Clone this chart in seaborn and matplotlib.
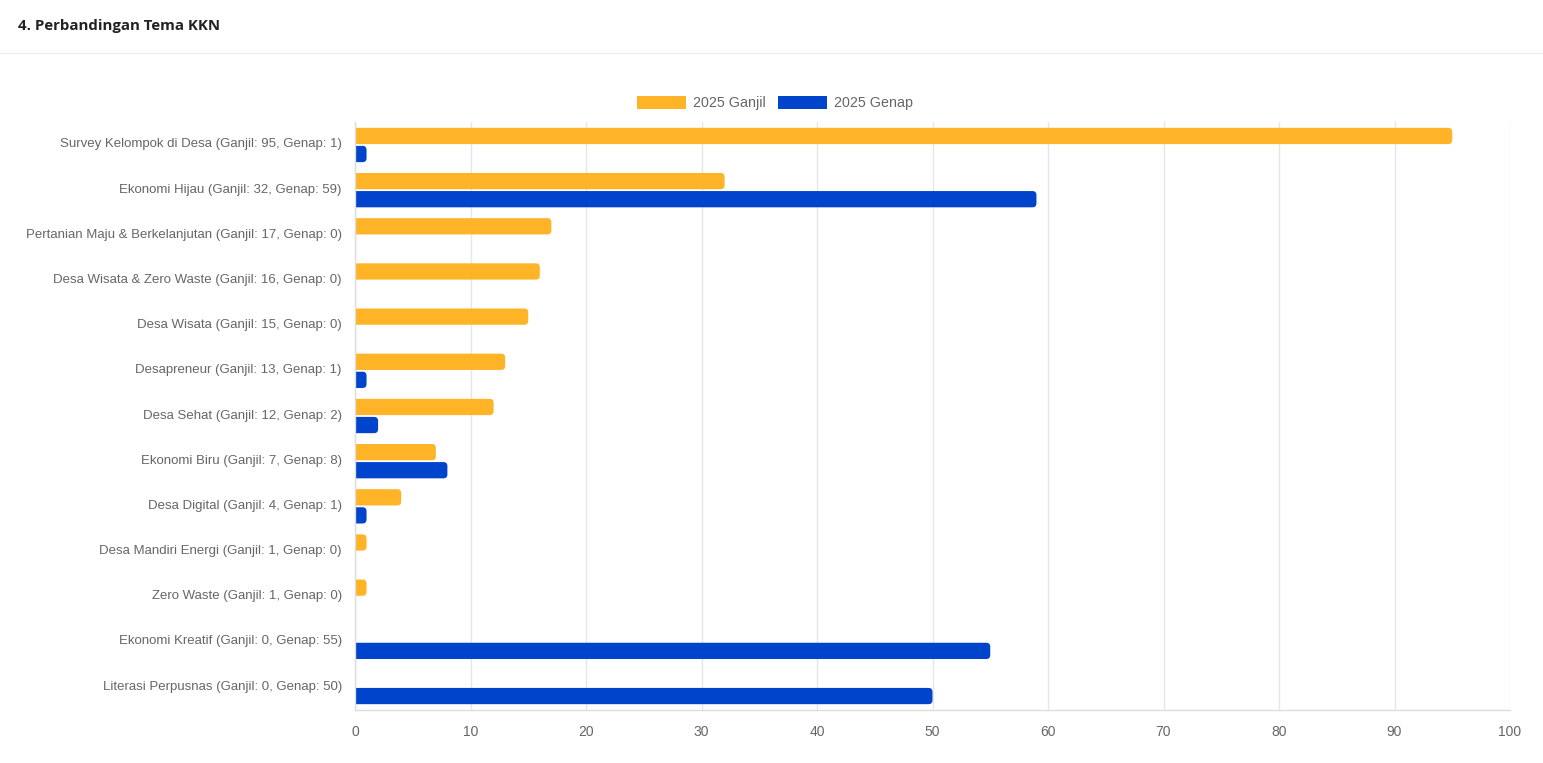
import matplotlib
matplotlib.use("Agg")
import numpy as np
import pandas as pd
import seaborn as sns
import matplotlib.pyplot as plt
import matplotlib.transforms as mtransforms
from matplotlib.patches import PathPatch, Patch
from matplotlib.path import Path
from matplotlib.lines import Line2D

# ---- data ----
themes = [
    "Survey Kelompok di Desa",
    "Ekonomi Hijau",
    "Pertanian Maju & Berkelanjutan",
    "Desa Wisata & Zero Waste",
    "Desa Wisata",
    "Desapreneur",
    "Desa Sehat",
    "Ekonomi Biru",
    "Desa Digital",
    "Desa Mandiri Energi",
    "Zero Waste",
    "Ekonomi Kreatif",
    "Literasi Perpusnas",
]
ganjil = [95, 32, 17, 16, 15, 13, 12, 7, 4, 1, 1, 0, 0]
genap = [1, 59, 0, 0, 0, 1, 2, 8, 1, 0, 0, 55, 50]
series = ["2025 Ganjil", "2025 Genap"]
colors = ["#FFB326", "#0044CC"]
x_ticks = list(range(0, 101, 10))
title = "4. Perbandingan Tema KKN"

labels = [f"{t} (Ganjil: {g}, Genap: {e})" for t, g, e in zip(themes, ganjil, genap)]
n = len(themes)
df = pd.DataFrame({
    "label": labels + labels,
    "value": ganjil + genap,
    "series": [series[0]] * n + [series[1]] * n,
})

sns.set_theme(style="white")
plt.rcParams["font.family"] = ["Liberation Sans", "DejaVu Sans"]

W, H = 1543, 763
fig = plt.figure(figsize=(W / 100, H / 100), dpi=100)
fig.patch.set_facecolor("white")
ax_top, ax_bot = 122.4, 709.6
ax = fig.add_axes([355 / W, 1 - ax_bot / H, (1510 - 355) / W, (ax_bot - ax_top) / H])

sns.barplot(data=df, y="label", x="value", hue="series", palette=colors,
            hue_order=series, order=labels, orient="h", width=0.8, gap=0.1,
            saturation=1, ax=ax, legend=False)

ax.set_xlim(0, 100)
ax.set_ylim(n - 0.5, -0.5)
ax.set_xticks(x_ticks)
ax.set_xlabel("")
ax.set_ylabel("")
ax.grid(axis="x", color="#e6e6e6", linewidth=1)
ax.grid(axis="y", visible=False)
ax.set_axisbelow(True)
for s in ["top", "right"]:
    ax.spines[s].set_visible(False)
for s in ["left", "bottom"]:
    ax.spines[s].set_color("#dddddd")
    ax.spines[s].set_linewidth(1)
ax.tick_params(axis="y", length=0, pad=9.5, labelsize=9.5, labelcolor="#666666")
ax.tick_params(axis="x", length=6, width=1, color="#e6e6e6", pad=5,
               labelsize=10, labelcolor="#666666")
# labels sit slightly above the bar-pair centre, as in the reference
shift = mtransforms.ScaledTranslation(0, 2 / 100, fig.dpi_scale_trans)
for lbl in ax.get_yticklabels():
    lbl.set_transform(lbl.get_transform() + shift)

# rounded bar ends (right side), square at the axis
p0 = ax.transData.transform((0, 0))
p1 = ax.transData.transform((1, 1))
sx = abs(p1[0] - p0[0])
sy = abs(p1[1] - p0[1])
r_px = 4.0
for p in list(ax.patches):
    x0, y0 = p.get_x(), p.get_y()
    w, h = p.get_width(), p.get_height()
    fc = p.get_facecolor()
    p.remove()
    if w <= 0:
        continue
    x1 = x0 + w
    ya, yb = min(y0, y0 + h), max(y0, y0 + h)
    rx = min(r_px / sx, w / 2)
    ry = min(r_px / sy, (yb - ya) / 2)
    verts = [
        (x0, ya), (x1 - rx, ya), (x1, ya), (x1, ya + ry),
        (x1, yb - ry), (x1, yb), (x1 - rx, yb), (x0, yb), (x0, ya),
    ]
    codes = [Path.MOVETO, Path.LINETO, Path.CURVE3, Path.CURVE3,
             Path.LINETO, Path.CURVE3, Path.CURVE3, Path.LINETO, Path.CLOSEPOLY]
    ax.add_patch(PathPatch(Path(verts, codes), facecolor=fc, edgecolor="none", zorder=2))

# legend
handles = [Patch(facecolor=c, edgecolor="none", label=s) for s, c in zip(series, colors)]
fig.legend(handles=handles, loc="center", bbox_to_anchor=(775 / W, 1 - 103 / H),
           ncol=2, frameon=False, handlelength=3.4, handleheight=1.0,
           fontsize=10.3, labelcolor="#666666", columnspacing=0.9, handletextpad=0.5)

# title & separator
fig.text(18 / W, 1 - 26 / H, title, fontsize=10.8, fontweight="bold",
         color="#222222", va="center", ha="left", family=["Open Sans", "DejaVu Sans"])
fig.add_artist(Line2D([0, 1], [1 - 53 / H] * 2, color="#eeeeee", lw=1,
                      transform=fig.transFigure))

fig.savefig("out.png", dpi=100, facecolor="white")
